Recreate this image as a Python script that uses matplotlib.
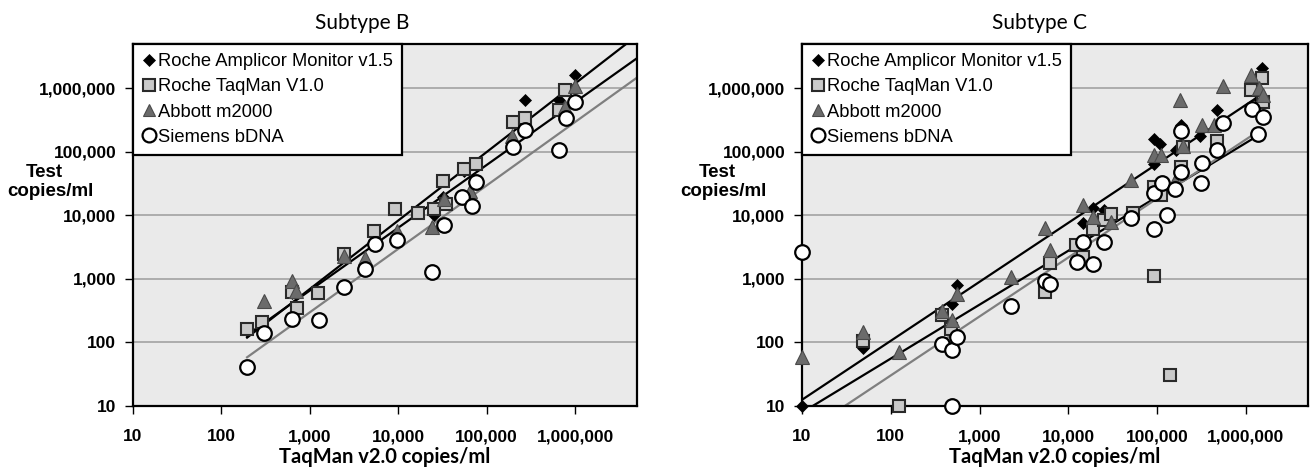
"""
Viral load agreement plots: TaqMan v2.0 against four other assays,
subtype B and subtype C panels, log-log with linear trend lines.
"""
import matplotlib
matplotlib.use("Agg")
import matplotlib.pyplot as plt
import numpy as np
from matplotlib.transforms import blended_transform_factory

W, H = 1310, 469

# ── data (copies/ml) ───────────────────────────────────────────────────────
SERIES = ["Roche Amplicor Monitor v1.5", "Roche TaqMan V1.0",
          "Abbott m2000", "Siemens bDNA"]

# Subtype B
B_AMP_X = [195, 290, 620, 2450, 5250, 2.5e4, 3.2e4, 5.5e4, 2.7e5, 6.5e5, 1.0e6]
B_AMP_Y = [150, 190, 600, 2300, 5000, 1.0e4, 1.95e4, 5.0e4, 6.6e5, 6.6e5, 1.6e6]

B_TQ1_X = [195, 290, 620, 710, 1250, 2450, 5250, 9200, 1.65e4, 2.5e4, 3.2e4,
           3.5e4, 5.5e4, 7.5e4, 2.0e5, 2.7e5, 6.5e5, 7.6e5]
B_TQ1_Y = [160, 205, 610, 350, 600, 2450, 5700, 1.26e4, 1.1e4, 1.26e4, 3.5e4,
           1.5e4, 5.4e4, 6.5e4, 3.0e5, 3.4e5, 4.6e5, 9.4e5]

B_ABB_X = [300, 620, 690, 2450, 4200, 9600, 2.4e4, 3.3e4, 6.5e4, 1.95e5,
           7.6e5, 1.0e6]
B_ABB_Y = [450, 930, 650, 2300, 2150, 5700, 6500, 1.8e4, 2.4e4, 1.8e5,
           5.1e5, 1.07e6]

B_BDNA_X = [195, 300, 620, 1260, 2450, 4200, 5500, 9600, 2.4e4, 3.3e4, 5.3e4,
            6.8e4, 7.5e4, 2.0e5, 2.7e5, 6.5e5, 7.9e5, 1.0e6]
B_BDNA_Y = [40, 140, 230, 220, 730, 1400, 3550, 4000, 1260, 6900, 1.95e4,
            1.4e4, 3.3e4, 1.2e5, 2.2e5, 1.05e5, 3.4e5, 6.2e5]

# Subtype C
C_AMP_X = [10, 49, 490, 560, 1.45e4, 1.9e4, 2.5e4, 9.1e4, 9.1e4, 1.07e5,
           1.65e5, 1.85e5, 3.0e5, 4.7e5, 1.4e6, 1.5e6]
C_AMP_Y = [10, 80, 400, 780, 7400, 1.3e4, 1.2e4, 1.6e5, 6.5e4, 1.35e5,
           1.07e5, 2.6e5, 1.75e5, 4.6e5, 6.7e5, 2.1e6]

C_TQ1_X = [49, 123, 375, 480, 5400, 6200, 1.23e4, 1.45e4, 1.9e4, 2.5e4, 3.0e4,
           5.3e4, 9.1e4, 9.1e4, 1.1e5, 1.38e5, 1.85e5, 1.95e5, 4.7e5, 1.15e6,
           1.5e6, 1.55e6]
C_TQ1_Y = [105, 10, 265, 162, 615, 1750, 3400, 2200, 6100, 8300, 1.05e4,
           1.07e4, 1100, 2.8e4, 2.1e4, 30, 5.7e4, 1.2e5, 1.5e5, 9.4e5,
           1.45e6, 6.2e5]

C_ABB_X = [10, 49, 123, 375, 490, 560, 2250, 5400, 6200, 1.45e4, 1.9e4, 3.0e4,
           5.1e4, 9.1e4, 1.1e5, 1.6e5, 1.83e5, 1.95e5, 3.2e5, 4.4e5, 5.5e5,
           1.15e6, 1.4e6, 1.55e6]
C_ABB_Y = [58, 145, 70, 310, 220, 580, 1070, 6200, 2800, 1.44e4, 9400, 7800,
           3.6e4, 8.9e4, 9.0e4, 3.4e4, 6.6e5, 1.25e5, 2.6e5, 2.6e5, 1.07e6,
           1.6e6, 1.0e6, 7.8e5]

C_BDNA_X = [10, 375, 490, 490, 560, 2250, 5400, 6200, 1.26e4, 1.45e4, 1.9e4,
            2.5e4, 5.1e4, 9.1e4, 9.1e4, 1.12e5, 1.3e5, 1.6e5, 1.85e5, 1.85e5,
            3.1e5, 3.2e5, 4.7e5, 5.5e5, 1.18e6, 1.35e6, 1.55e6]
C_BDNA_Y = [2650, 94, 10, 74, 122, 365, 910, 830, 1800, 3800, 1700, 3800,
            8900, 6100, 2.2e4, 3.2e4, 1.02e4, 2.6e4, 4.8e4, 2.1e5, 3.2e4,
            6.6e4, 1.07e5, 2.8e5, 4.7e5, 1.9e5, 3.5e5]

# trend lines: log10(y) = intercept + slope * log10(x), drawn over [x0, x1]
B_TREND_INTERCEPT = [-0.403, -0.157, -0.53]
B_TREND_SLOPE = [1.08, 0.99, 1.0]
B_TREND_XRANGE = [(195, 5e6), (195, 5e6), (195, 5e6)]

C_TREND_INTERCEPT = [0.16, 0.04, -0.386]
C_TREND_SLOPE = [0.93, 0.85, 0.93]
C_TREND_XRANGE = [(10, 1.4e6), (10, 1.45e6), (10, 1.45e6)]

TICKS = [10, 100, 1000, 10000, 100000, 1000000]
TICK_LABELS = ["10", "100", "1,000", "10,000", "100,000", "1,000,000"]

# ── styling ────────────────────────────────────────────────────────────────
MARKERS = [
    dict(marker="D", ms=6.5, mfc="black", mec="black", mew=0.5),
    dict(marker="s", ms=9, mfc="#c9c9c9", mec="#2a2a2a", mew=1.5),
    dict(marker="^", ms=9.5, mfc="#6b6b6b", mec="#4a4a4a", mew=0.8),
    dict(marker="o", ms=10.5, mfc="white", mec="black", mew=1.6),
]
TREND_COLORS = ["black", "black", "#7f7f7f"]

plt.rcParams["font.family"] = ["Liberation Sans", "DejaVu Sans"]
TITLE_FONT = ["Lato", "DejaVu Sans"]


def draw_panel(fig, rect, series, trends, title, title_cx, ylab_cx):
    ax = fig.add_axes(rect)
    ax.set_facecolor("#eaeaea")
    ax.set_xscale("log")
    ax.set_yscale("log")
    ax.set_xlim(10, 5e6)
    ax.set_ylim(10, 5e6)

    for (xs, ys), label, style in zip(series, SERIES, MARKERS):
        ax.plot(xs, ys, ls="none", label=label, clip_on=False, zorder=3,
                **style)

    for b0, b1, (x0, x1), col in zip(*trends, TREND_COLORS):
        lx = np.linspace(np.log10(x0), np.log10(x1), 50)
        ax.plot(10 ** lx, 10 ** (b0 + b1 * lx), color=col, lw=1.6, zorder=2)

    ax.yaxis.set_major_locator(matplotlib.ticker.FixedLocator(TICKS))
    ax.xaxis.set_major_locator(matplotlib.ticker.FixedLocator(TICKS))
    ax.yaxis.set_minor_locator(matplotlib.ticker.NullLocator())
    ax.xaxis.set_minor_locator(matplotlib.ticker.NullLocator())
    ax.set_yticklabels(TICK_LABELS, fontsize=12.5, fontweight="bold")
    ax.set_xticklabels(TICK_LABELS, fontsize=12.5, fontweight="bold")
    ax.tick_params(axis="y", length=6, width=1, pad=6)
    ax.tick_params(axis="x", length=6, width=1, pad=11)
    ax.grid(axis="y", color="#a3a3a3", lw=1.2, zorder=1)
    ax.set_axisbelow(True)
    for sp in ax.spines.values():
        sp.set_linewidth(1.6)
        sp.set_color("black")

    leg = ax.legend(loc="upper left", bbox_to_anchor=(0, 1), borderaxespad=0,
                    fancybox=False, framealpha=1, edgecolor="black",
                    numpoints=1, handlelength=0.7, handletextpad=0.15,
                    labelspacing=0.45, borderpad=0.5, fontsize=13.2,
                    markerscale=0.95)
    leg.get_frame().set_linewidth(1.6)
    leg.set_zorder(5)

    fig.text(title_cx / W, 1 - 29 / H, title, ha="center", va="baseline",
             fontsize=15, family=TITLE_FONT)
    tr = blended_transform_factory(ax.transAxes, fig.transFigure)
    ax.text(0.5, 1 - 463 / H, "TaqMan v2.0 copies/ml", transform=tr,
            ha="center", va="baseline", fontsize=14.5, fontweight="bold",
            family=TITLE_FONT)
    fig.text((ylab_cx - 6) / W, 1 - 177 / H, "Test", ha="center",
             va="baseline", fontsize=13.5, fontweight="bold")
    fig.text(ylab_cx / W, 1 - 196 / H, "copies/ml", ha="center",
             va="baseline", fontsize=13.5, fontweight="bold")
    return ax


def main():
    fig = plt.figure(figsize=(W / 100, H / 100), dpi=100)
    bottom = (H - 405.5) / H
    height = 361.5 / H

    draw_panel(fig, [133 / W, bottom, 504 / W, height],
               [(B_AMP_X, B_AMP_Y), (B_TQ1_X, B_TQ1_Y),
                (B_ABB_X, B_ABB_Y), (B_BDNA_X, B_BDNA_Y)],
               (B_TREND_INTERCEPT, B_TREND_SLOPE, B_TREND_XRANGE),
               "Subtype B", 362, 50)
    draw_panel(fig, [802 / W, bottom, 506 / W, height],
               [(C_AMP_X, C_AMP_Y), (C_TQ1_X, C_TQ1_Y),
                (C_ABB_X, C_ABB_Y), (C_BDNA_X, C_BDNA_Y)],
               (C_TREND_INTERCEPT, C_TREND_SLOPE, C_TREND_XRANGE),
               "Subtype C", 1040, 723)

    fig.savefig("out.png", dpi=100)


if __name__ == "__main__":
    main()
